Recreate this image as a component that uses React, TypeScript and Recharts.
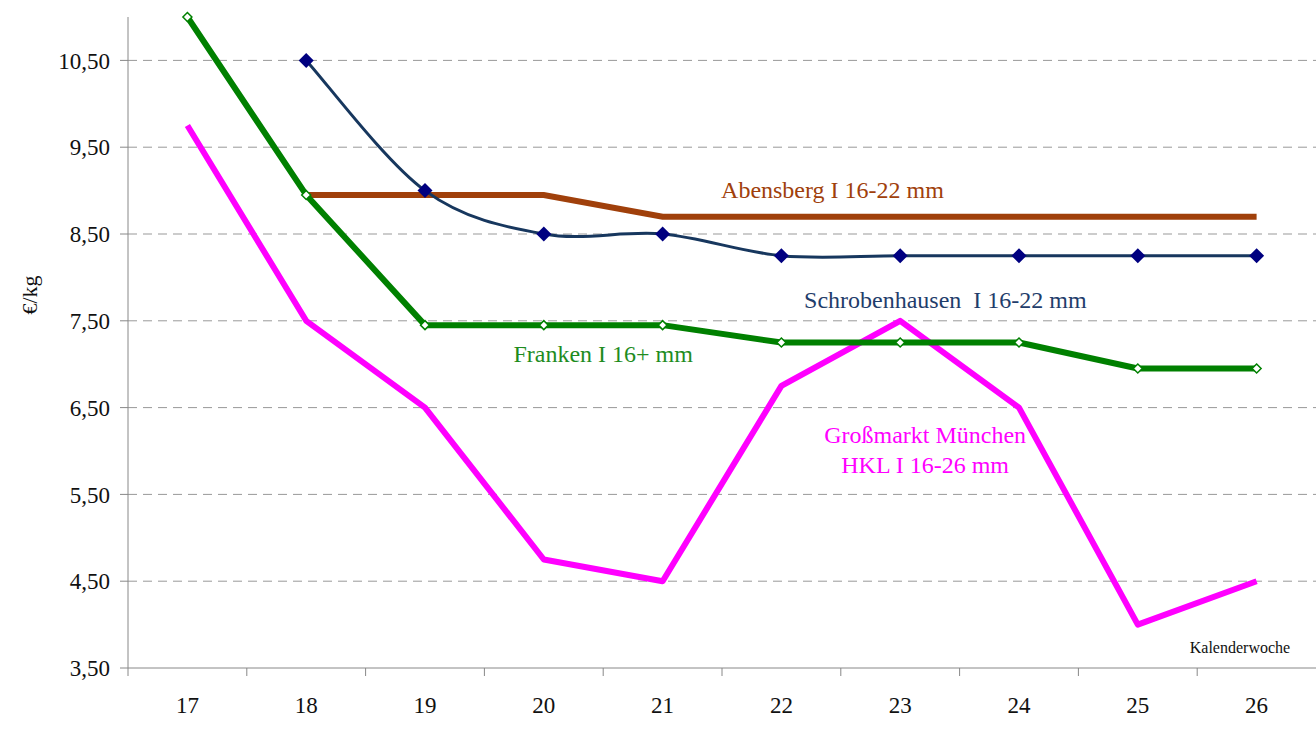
import {
  LineChart,
  Line,
  XAxis,
  YAxis,
  CartesianGrid,
  ReferenceDot,
} from "recharts";

// Kalenderwoche
const weeks = [17, 18, 19, 20, 21, 22, 23, 24, 25, 26];

// €/kg
const abensberg = [null, 8.95, 8.95, 8.95, 8.7, 8.7, 8.7, 8.7, 8.7, 8.7];
const schrobenhausen = [null, 10.5, 9.0, 8.5, 8.5, 8.25, 8.25, 8.25, 8.25, 8.25];
const franken = [11.0, 8.95, 7.45, 7.45, 7.45, 7.25, 7.25, 7.25, 6.95, 6.95];
const grossmarkt = [9.75, 7.5, 6.5, 4.75, 4.5, 6.75, 7.5, 6.5, 4.0, 4.5];

const yTicks = [3.5, 4.5, 5.5, 6.5, 7.5, 8.5, 9.5, 10.5];

const data = weeks.map((w, i) => ({
  week: w,
  abensberg: abensberg[i],
  schrobenhausen: schrobenhausen[i],
  franken: franken[i],
  grossmarkt: grossmarkt[i],
}));

const FONT = '"Liberation Serif", "Times New Roman", serif';
const HALF_BAND = 59.4;

// Excel-style smoothed line (bezier through the points)
const smoothCurve = (context: any) => {
  let pts: [number, number][] = [];
  return {
    areaStart() {},
    areaEnd() {},
    lineStart() {
      pts = [];
    },
    point(x: number, y: number) {
      pts.push([+x, +y]);
    },
    lineEnd() {
      if (!pts.length) return;
      context.moveTo(pts[0][0], pts[0][1]);
      for (let i = 0; i < pts.length - 1; i++) {
        const p0 = pts[i - 1] || pts[i];
        const p1 = pts[i];
        const p2 = pts[i + 1];
        const p3 = pts[i + 2] || p2;
        const t = 1 / 6;
        context.bezierCurveTo(
          p1[0] + (p2[0] - p0[0]) * t,
          p1[1] + (p2[1] - p0[1]) * t,
          p2[0] - (p3[0] - p1[0]) * t,
          p2[1] - (p3[1] - p1[1]) * t,
          p2[0],
          p2[1]
        );
      }
    },
  };
};

const diamond = (cx: number, cy: number, r: number) =>
  `M${cx},${cy - r}L${cx + r},${cy}L${cx},${cy + r}L${cx - r},${cy}Z`;

const NavyDot = (props: any) => {
  const { cx, cy, index } = props;
  if (cx == null || cy == null || props.value == null) return <g key={index} />;
  return <path key={index} d={diamond(cx, cy, 7.5)} fill="#000080" stroke="none" />;
};

const GreenDot = (props: any) => {
  const { cx, cy, index } = props;
  if (cx == null || cy == null) return <g key={index} />;
  return (
    <path key={index} d={diamond(cx, cy, 4.5)} fill="#fff" stroke="#008000" strokeWidth={1.5} />
  );
};

const WeekTick = (props: any) => {
  const { x, y, payload } = props;
  return (
    <g>
      <line x1={x - HALF_BAND} x2={x - HALF_BAND} y1={y - 8} y2={y} stroke="#888" />
      <text x={x} y={y + 37} textAnchor="middle" fill="#111" fontSize={23} fontFamily={FONT}>
        {payload.value}
      </text>
    </g>
  );
};

const fmt = (v: number) => v.toFixed(2).replace(".", ",");

const annotation = (value: string, fill: string, fontSize = 24) => ({
  value,
  position: "center" as const,
  fill,
  fontSize,
  fontFamily: FONT,
});

export default function App() {
  return (
    <div style={{ position: "absolute", left: 0, top: 0, fontFamily: FONT }}>
      <LineChart
        width={1316}
        height={729}
        data={data}
        margin={{ top: 17, right: 0, bottom: 0, left: 0 }}
      >
        <CartesianGrid
          horizontal
          vertical={false}
          horizontalValues={yTicks.slice(1)}
          stroke="#999"
          strokeDasharray="9 6"
        />
        <XAxis
          dataKey="week"
          type="number"
          domain={[16.5, 26.5]}
          ticks={weeks}
          height={61}
          tickSize={8}
          tickMargin={0}
          tickLine={false}
          axisLine={{ stroke: "#888" }}
          tick={<WeekTick />}
          interval={0}
        />
        <YAxis
          type="number"
          domain={[3.5, 11]}
          ticks={yTicks}
          width={128}
          tickSize={8}
          tickMargin={10}
          tickFormatter={fmt}
          tick={{ fill: "#111", fontSize: 23, fontFamily: FONT }}
          tickLine={{ stroke: "#888" }}
          axisLine={{ stroke: "#888" }}
          interval={0}
          label={{
            content: () => (
              <text
                x={37}
                y={295}
                transform="rotate(-90 37 295)"
                textAnchor="middle"
                fill="#111"
                fontSize={22}
                fontFamily={FONT}
              >
                €/kg
              </text>
            ),
          }}
        />
        <Line
          dataKey="abensberg"
          stroke="#A0400B"
          strokeWidth={6}
          dot={false}
          type="linear"
          isAnimationActive={false}
        />
        <Line
          dataKey="grossmarkt"
          stroke="#FF00FF"
          strokeWidth={6}
          dot={false}
          type="linear"
          strokeLinejoin="round"
          isAnimationActive={false}
        />
        <Line
          dataKey="franken"
          stroke="#008000"
          strokeWidth={6}
          dot={<GreenDot />}
          type="linear"
          strokeLinejoin="round"
          isAnimationActive={false}
        />
        <Line
          dataKey="schrobenhausen"
          stroke="#17375E"
          strokeWidth={3}
          dot={<NavyDot />}
          type={smoothCurve as any}
          isAnimationActive={false}
        />
        <ReferenceDot x={22.43} y={9.01} r={0} fill="none" stroke="none" label={annotation("Abensberg I 16-22 mm", "#A0400B")} />
        <ReferenceDot x={23.38} y={7.75} r={0} fill="none" stroke="none" label={annotation("Schrobenhausen\u00a0\u00a0I 16-22 mm", "#1F3D6B")} />
        <ReferenceDot x={20.5} y={7.12} r={0} fill="none" stroke="none" label={annotation("Franken I 16+ mm", "#1E8C1E")} />
        <ReferenceDot x={23.21} y={6.19} r={0} fill="none" stroke="none" label={annotation("Großmarkt München", "#FF00FF")} />
        <ReferenceDot x={23.21} y={5.85} r={0} fill="none" stroke="none" label={annotation("HKL I 16-26 mm", "#FF00FF")} />
        <ReferenceDot x={25.86} y={3.74} r={0} fill="none" stroke="none" label={annotation("Kalenderwoche", "#111", 16)} />
      </LineChart>
    </div>
  );
}
